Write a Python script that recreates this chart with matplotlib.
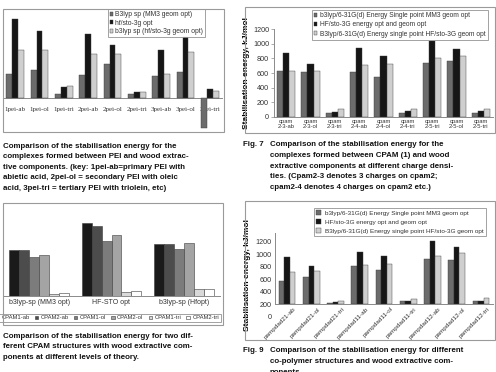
import matplotlib
matplotlib.use('Agg')
import matplotlib.pyplot as plt
from matplotlib.patches import Rectangle
import numpy as np

plt.rcParams['font.family'] = ['Liberation Sans', 'DejaVu Sans']

# ---------------- data ----------------
pei_cats = ['1pei-ab', '1pei-ol', '1pei-tri', '2pei-ab', '2pei-ol', '2pei-tri',
            '3pei-ab', '3pei-ol', '3pei-tri']
pei_b3lyp_mm3 = [285, 330, 45, 275, 400, 50, 260, 310, -360]
pei_hf = [945, 795, 125, 765, 635, 70, 570, 730, 110]
pei_b3lyp_hf = [570, 575, 140, 525, 520, 65, 280, 550, 80]
pei_labels = ['B3lyp sp (MM3 geom opt)', 'hf/sto-3g opt', 'b3lyp sp (hf/sto-3g geom opt)']

cpam_cats = ['cpam\n2-3-ab', 'cpam\n2-3-ol', 'cpam\n2-3-tri', 'cpam\n2-4-ab', 'cpam\n2-4-ol',
             'cpam\n2-4-tri', 'cpam\n2-5-tri', 'cpam\n2-5-ol', 'cpam\n2-5-tri']
cpam_b3lyp_mm3 = [630, 620, 45, 620, 550, 45, 740, 760, 50]
cpam_hf = [870, 730, 60, 945, 835, 75, 1040, 930, 85]
cpam_b3lyp_hf = [630, 625, 100, 710, 720, 105, 810, 835, 105]

level_labels = ['b3lyp/6-31G(d) Energy Single point MM3 geom opt',
                'HF/sto-3G energy opt and geom opt',
                'B3lyp/6-31G(d) Energy single point HF/sto-3G geom opt']

theory_cats = ['b3lyp-sp (MM3 opt)', 'HF-STO opt', 'b3lyp-sp (Hfopt)']
theory_series = ['CPAM1-ab', 'CPAM2-ab', 'CPAM1-ol', 'CPAM2-ol', 'CPAM1-tri', 'CPAM2-tri']
cpam1_ab = [620, 985, 700]
cpam2_ab = [620, 945, 700]
cpam1_ol = [525, 750, 630]
cpam2_ol = [555, 830, 715]
cpam1_tri = [25, 60, 95]
cpam2_tri = [40, 70, 95]

pamp_cats = ['pampdad21-ab', 'pampdad21-ol', 'pampdad21-tri', 'pampdad11-ab', 'pampdad11-ol',
             'pampdad11-tri', 'pampdad12-ab', 'pampdad12-ol', 'pampdad12-tri']
pamp_b3lyp_mm3 = [575, 630, 215, 805, 745, 253, 920, 905, 253]
pamp_hf = [960, 810, 240, 1035, 968, 245, 1210, 1112, 245]
pamp_b3lyp_hf = [712, 740, 250, 835, 850, 280, 965, 1025, 295]
pamp_yticks = [0, 200, 400, 600, 800, 1000, 1200]
cpam_yticks = [0, 200, 400, 600, 800, 1000, 1200]

cap6 = ['Comparison of the stabilisation energy for the',
        'complexes formed between PEI and wood extrac-',
        'tive components. (key: 1pei-ab=primary PEI with',
        'abietic acid, 2pei-ol = secondary PEI with oleic',
        'acid, 3pei-tri = tertiary PEI with triolein, etc)']
cap7 = ['Comparison of the stabilisation energy for the',
        'complexes formed between CPAM (1) and wood',
        'extractive components at different charge densi-',
        'ties. (Cpam2-3 denotes 3 charges on cpam2;',
        'cpam2-4 denotes 4 charges on cpam2 etc.)']
cap8 = ['Comparison of the stabilisation energy for two dif-',
        'ferent CPAM structures with wood extractive com-',
        'ponents at different levels of theory.']
cap9 = ['Comparison of the stabilisation energy for different',
        'co-polymer structures and wood extractive com-',
        'ponents']

# ---------------- layout helpers ----------------
W, H = 496, 372
fig = plt.figure(figsize=(W / 100, H / 100), dpi=100)
fig.patch.set_facecolor('white')


def rect(x0, y0, x1, y1):
    return [x0 / W, 1 - y1 / H, (x1 - x0) / W, (y1 - y0) / H]


def frame(x0, y0, x1, y1):
    fig.add_artist(Rectangle((x0 / W, 1 - y1 / H), (x1 - x0) / W, (y1 - y0) / H,
                             transform=fig.transFigure, fill=False,
                             ec='#9a9a9a', lw=0.8))


def fpos(x, y):
    return (x / W, 1 - y / H)


C_GREY = '#6c6c6c'
C_BLACK = '#161616'
C_LIGHT = '#cfcfcf'
EDGE = '#3a3a3a'
AXC = '#8a8a8a'

BOLD = dict(fontweight='bold', family=['Liberation Sans', 'DejaVu Sans'])


def legend_at(ax, handles, labels, x, y, fs, **kw):
    lg = ax.legend(handles, labels, loc='upper left', bbox_to_anchor=fpos(x, y),
                   bbox_transform=fig.transFigure, fontsize=fs, frameon=True,
                   fancybox=False, edgecolor='#8a8a8a', borderaxespad=0,
                   **kw)
    lg.get_frame().set_linewidth(0.7)
    for t in lg.get_texts():
        t.set_color('#333333')
    return lg


# ---------------- panel 1 (PEI) ----------------
frame(3, 9, 224, 132)
ax1 = fig.add_axes(rect(3, 16, 222, 130))
x = np.arange(len(pei_cats))
bw = 0.24
b1 = ax1.bar(x - bw, pei_b3lyp_mm3, bw, color=C_GREY, ec=EDGE, lw=0.3, zorder=3)
b2 = ax1.bar(x, pei_hf, bw, color=C_BLACK, ec=EDGE, lw=0.3, zorder=3)
b3 = ax1.bar(x + bw, pei_b3lyp_hf, bw, color=C_LIGHT, ec=EDGE, lw=0.3, zorder=3)
ax1.set_xlim(-0.5, len(pei_cats) - 0.5)
ax1.set_ylim(-388, 980)
ax1.spines['bottom'].set_position(('data', 0))
for s in ['top', 'right']:
    ax1.spines[s].set_visible(False)
ax1.spines['bottom'].set_color(AXC)
ax1.spines['left'].set_color(AXC)
ax1.spines['bottom'].set_linewidth(0.7)
ax1.spines['left'].set_linewidth(0.7)
ax1.set_yticks([])
ax1.set_xticks(x)
ax1.set_xticklabels(pei_cats, family=['Liberation Serif'], fontsize=5.0, color='#333333')
ax1.tick_params(axis='x', length=0, pad=7)
ax1.patch.set_alpha(0)
legend_at(ax1, [b1, b2, b3], pei_labels, 108, 9, 4.9,
          handlelength=0.5, handleheight=0.5, handletextpad=0.3,
          labelspacing=0.25, borderpad=0.3)

# ---------------- panel 2 (CPAM charge densities) ----------------
frame(245, 7, 495, 133)
ax2 = fig.add_axes(rect(274, 29.3, 493, 116.7))
x = np.arange(len(cpam_cats))
bw = 0.25
c1 = ax2.bar(x - bw, cpam_b3lyp_mm3, bw, color=C_GREY, ec=EDGE, lw=0.3)
c2 = ax2.bar(x, cpam_hf, bw, color=C_BLACK, ec=EDGE, lw=0.3)
c3 = ax2.bar(x + bw, cpam_b3lyp_hf, bw, color=C_LIGHT, ec=EDGE, lw=0.3)
ax2.set_xlim(-0.5, len(cpam_cats) - 0.5)
ax2.set_ylim(0, 1200)
ax2.set_yticks(cpam_yticks)
for s in ['top', 'right']:
    ax2.spines[s].set_visible(False)
for s in ['bottom', 'left']:
    ax2.spines[s].set_color(AXC)
    ax2.spines[s].set_linewidth(0.7)
ax2.set_xticks(x)
ax2.set_xticklabels(cpam_cats, fontsize=4.2, linespacing=0.95, color='#333333')
ax2.tick_params(axis='x', length=0, pad=1.5)
ax2.tick_params(axis='y', length=2, width=0.5, color=AXC, labelsize=5.2, pad=1.5,
                labelcolor='#333333')
ax2.set_ylabel('Stabilisation energy, kJ/mol', fontsize=6.0, labelpad=2, **BOLD)
legend_at(ax2, [c1, c2, c3], level_labels, 312, 10, 4.75,
          handlelength=0.5, handleheight=0.5, handletextpad=0.4,
          labelspacing=0.35, borderpad=0.3)

# ---------------- panel 3 (levels of theory) ----------------
frame(3, 203, 223, 325)
ax3 = fig.add_axes(rect(3, 208, 220, 296))
x = np.arange(len(theory_cats))
bw = 0.138
vals = [cpam1_ab, cpam2_ab, cpam1_ol, cpam2_ol, cpam1_tri, cpam2_tri]
cols = ['#1a1a1a', '#4c4c4c', '#7c7c7c', '#a4a4a4', '#d9d9d9', '#ffffff']
hs = []
for i, (v, c) in enumerate(zip(vals, cols)):
    hs.append(ax3.bar(x + (i - 2.5) * bw, v, bw, color=c, ec=EDGE, lw=0.4))
ax3.set_xlim(-0.5, len(theory_cats) - 0.5)
ax3.set_ylim(0, 1190)
ax3.set_yticks([])
for s in ['top', 'right']:
    ax3.spines[s].set_visible(False)
for s in ['bottom', 'left']:
    ax3.spines[s].set_color(AXC)
    ax3.spines[s].set_linewidth(0.7)
ax3.set_xticks(x)
ax3.set_xticklabels(theory_cats, fontsize=5.0, color='#333333')
ax3.tick_params(axis='x', length=0, pad=2.5)
legend_at(ax3, hs, theory_series, -6, 314, 4.2, ncol=6,
          handlelength=0.6, handleheight=0.6, handletextpad=0.4,
          columnspacing=0.9, borderpad=0.25)

# ---------------- panel 4 (co-polymers) ----------------
frame(245, 201, 495, 340)
ax4 = fig.add_axes(rect(275, 233, 493, 316.8))
x = np.arange(len(pamp_cats))
bw = 0.23
base = 200
p1 = ax4.bar(x - bw, np.array(pamp_b3lyp_mm3) - base, bw, bottom=base, color=C_GREY, ec=EDGE, lw=0.3)
p2 = ax4.bar(x, np.array(pamp_hf) - base, bw, bottom=base, color=C_BLACK, ec=EDGE, lw=0.3)
p3 = ax4.bar(x + bw, np.array(pamp_b3lyp_hf) - base, bw, bottom=base, color=C_LIGHT, ec=EDGE, lw=0.3)
ax4.set_xlim(-0.5, len(pamp_cats) - 0.5)
ax4.set_ylim(0, 1340)
ax4.set_yticks(pamp_yticks)
ax4.spines['bottom'].set_position(('data', base))
ax4.spines['left'].set_bounds(base, 1340)
for s in ['top', 'right']:
    ax4.spines[s].set_visible(False)
for s in ['bottom', 'left']:
    ax4.spines[s].set_color(AXC)
    ax4.spines[s].set_linewidth(0.7)
ax4.set_xticks(x + 0.25)
ax4.set_xticklabels(pamp_cats, fontsize=4.6, rotation=45, ha='right',
                    rotation_mode='anchor', color='#333333')
ax4.tick_params(axis='x', length=0, pad=1.5)
ax4.tick_params(axis='y', length=0, labelsize=5.2, pad=2.5, labelcolor='#333333')
ax4.set_ylabel('Stabilisation energy, kJ/mol', fontsize=6.0, labelpad=3, **BOLD)
ax4.patch.set_alpha(0)
legend_at(ax4, [p1, p2, p3], level_labels, 314, 208, 4.6,
          handlelength=0.8, handleheight=0.8, handletextpad=0.5,
          labelspacing=0.5, borderpad=0.35)

# ---------------- captions ----------------
CAP_FS = 5.7
LS = 10.6


def caption(lines, x, y0):
    for i, t in enumerate(lines):
        fig.text(x / W, 1 - (y0 + i * LS) / H, t, fontsize=CAP_FS, va='center',
                 ha='left', color='#111111', **BOLD)


caption(cap6, 3, 146)
caption(cap7, 270, 145)
fig.text(243 / W, 1 - 145 / H, 'Fig. 7', fontsize=CAP_FS, va='center', ha='left',
         color='#111111', **BOLD)
caption(cap8, 3, 336)
caption(cap9, 270, 351)
fig.text(243 / W, 1 - 351 / H, 'Fig. 9', fontsize=CAP_FS, va='center', ha='left',
         color='#111111', **BOLD)

fig.savefig('out.png', dpi=100, facecolor='white')
